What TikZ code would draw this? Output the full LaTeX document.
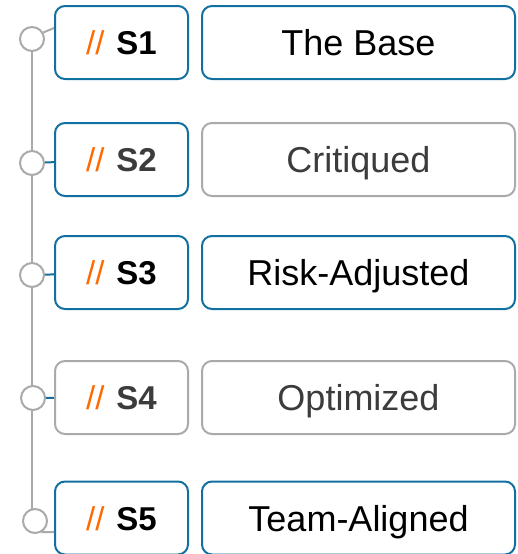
\documentclass[tikz,border=0pt]{standalone}
\usepackage{fontspec}
\setmainfont{Liberation Sans}
\usepackage{tikz}

\definecolor{stageblue}{RGB}{18,112,160}
\definecolor{slashorange}{RGB}{255,106,0}
\definecolor{railgray}{RGB}{170,170,170}
\definecolor{dimtext}{RGB}{60,60,60}

\tikzset{
  tagbox/.style={draw=stageblue, line width=2pt, rounded corners=10pt, fill=white,
    minimum width=133pt, minimum height=73pt, inner sep=0pt,
    text height=24pt, text depth=0pt,
    font=\fontsize{33}{36}\selectfont},
  namebox/.style={draw=stageblue, line width=2pt, rounded corners=10pt, fill=white,
    minimum width=313pt, minimum height=73pt, inner sep=0pt,
    text height=26pt, text depth=0pt,
    font=\fontsize{36}{40}\selectfont},
  idle/.style={draw=railgray, text=dimtext},
  knot/.style={circle, draw=railgray, line width=2pt, fill=white, minimum size=24pt, inner sep=0pt},
  rail/.style={draw=railgray, line width=2pt},
  link/.style={draw=stageblue, line width=2pt}
}
\newcommand{\stagetag}[1]{{\color{slashorange}//}\hspace{12pt}\textbf{#1}}

\begin{document}
\begin{tikzpicture}[x=1pt,y=-1pt]
\useasboundingbox (0,0) rectangle (518,554);

% Timeline
\coordinate (railtop) at (32,39);
\coordinate (railbot) at (32,516);
\draw[rail] (railtop) -- (railbot);
\node[knot] (c1) at (32,39) {};
\node[knot] (c2) at (32,163) {};
\node[knot] (c3) at (32,275) {};
\node[knot] (c4) at (33,398) {};
\node[knot] (c5) at (35,521) {};

% Tags
\node[tagbox] (t1) at (121.5,42.5) {\stagetag{S1}};
\node[tagbox, text=dimtext] (t2) at (121.5,159.5) {\stagetag{S2}};
\node[tagbox] (t3) at (121.5,272.5) {\stagetag{S3}};
\node[tagbox, idle] (t4) at (121.5,397.5) {\stagetag{S4}};
\node[tagbox] (t5) at (121.5,518) {\stagetag{S5}};

% Names
\node[namebox] (n1) at (358.5,42.5) {The Base};
\node[namebox, idle] (n2) at (358.5,159.5) {Critiqued};
\node[namebox] (n3) at (358.5,272.5) {Risk-Adjusted};
\node[namebox, idle] (n4) at (358.5,397.5) {Optimized};
\node[namebox] (n5) at (358.5,518) {Team-Aligned};

% Links
\draw[rail] (c1.30) -- (t1.west |- 0,28);
\draw[link] (c2) -- (t2);
\draw[link] (c3) -- (t3);
\draw[link] (c4) -- (t4);
\draw[rail] (c5.-60) -- (t5.west |- 0,532);
\end{tikzpicture}
\end{document}
